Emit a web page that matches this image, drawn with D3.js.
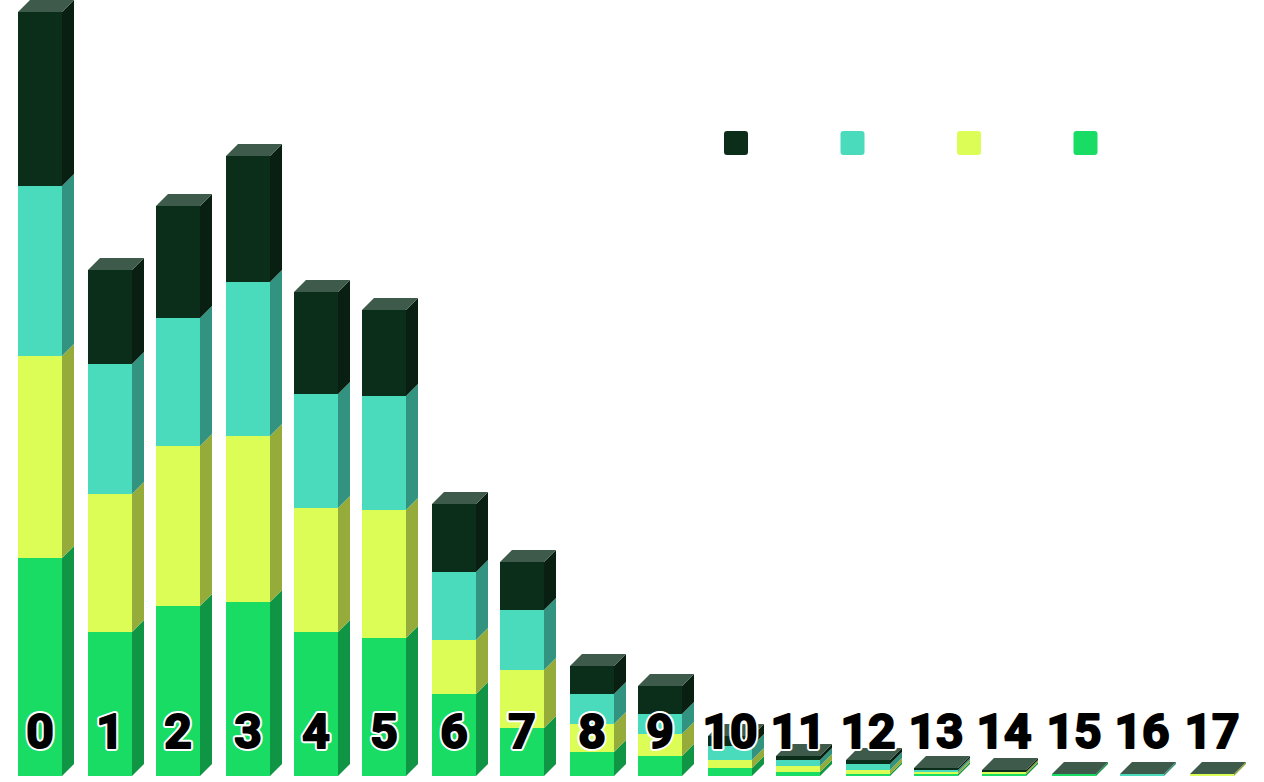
<!DOCTYPE html>
<html>
<head>
<meta charset="utf-8">
<script src="https://cdn.jsdelivr.net/npm/d3@7"></script>
<style>
  html, body { margin: 0; padding: 0; background: #fff; overflow: hidden; }
  svg { display: block; }
  .label {
    font-family: Roboto, "Liberation Sans", sans-serif;
    font-weight: bold;
    font-size: 48px;
    text-anchor: middle;
    stroke-linejoin: round;
  }
  .label.halo { fill: #fff; stroke: #fff; stroke-width: 6px; }
  .label.ink { fill: #000; stroke: #000; stroke-width: 2px; }
</style>
</head>
<body>
<script>
const categories = ['0', '1', '2', '3', '4', '5', '6', '7', '8', '9', '10', '11', '12', '13', '14', '15', '16', '17'];

const green = [109, 72, 85, 87, 72, 69, 41, 24, 12, 10, 4, 2, 1, 1, 1, 1, 0, 0];
const yellow = [101, 69, 80, 83, 62, 64, 27, 29, 14, 11, 4, 3, 2, 1, 1, 0, 0, 1];
const teal = [85, 65, 64, 77, 57, 57, 34, 30, 15, 10, 7, 3, 3, 1, 0, 0, 1, 0];
const dark = [87, 47, 56, 63, 51, 43, 34, 24, 14, 14, 5, 2, 2, 1, 1, 0, 0, 0];

const seriesKeys = ['green', 'yellow', 'teal', 'dark'];
const legendKeys = ['dark', 'teal', 'yellow', 'green'];
const seriesValues = { green, yellow, teal, dark };

const colors = { green: '#18dc64', yellow: '#dcfd55', teal: '#4adbbd', dark: '#0b2e1a' };
const sideColors = { green: '#109545', yellow: '#95ab3a', teal: '#329480', dark: '#081f12' };
const topColor = '#3e5a4a';

const width = 1264;
const height = 782;
const barWidth = 44;
const depth = 12;

const rows = categories.map((c, i) => {
  const row = { category: c };
  seriesKeys.forEach(k => { row[k] = seriesValues[k][i]; });
  return row;
});

const stacked = d3.stack().keys(seriesKeys)(rows);

const x = d3.scalePoint()
  .domain(categories)
  .range([18.58, 1189.54]);

const y = d3.scaleLinear()
  .domain([0, d3.max(stacked[stacked.length - 1], d => d[1])])
  .range([776, 12]);

// the bars sit on an even pixel grid
const barX = c => 2 * Math.round(x(c) / 2);

const svg = d3.select('body')
  .append('svg')
  .attr('width', width)
  .attr('height', height);

const layers = svg.selectAll('g.layer')
  .data(stacked)
  .join('g')
  .attr('class', 'layer');

layers.selectAll('path.side')
  .data(s => s.filter(d => d[1] > d[0]).map(d => ({ key: s.key, d })))
  .join('path')
  .attr('class', 'side')
  .attr('fill', o => sideColors[o.key])
  .attr('d', o => {
    const right = barX(o.d.data.category) + barWidth;
    const y0 = y(o.d[0]);
    const y1 = y(o.d[1]);
    return `M${right},${y0}L${right + depth},${y0 - depth}L${right + depth},${y1 - depth}L${right},${y1}Z`;
  });

layers.selectAll('rect.front')
  .data(s => s.filter(d => d[1] > d[0]).map(d => ({ key: s.key, d })))
  .join('rect')
  .attr('class', 'front')
  .attr('fill', o => colors[o.key])
  .attr('x', o => barX(o.d.data.category))
  .attr('y', o => y(o.d[1]))
  .attr('width', barWidth)
  .attr('height', o => y(o.d[0]) - y(o.d[1]));

svg.append('g')
  .selectAll('path')
  .data(stacked[stacked.length - 1])
  .join('path')
  .attr('fill', topColor)
  .attr('d', d => {
    const left = barX(d.data.category);
    const top = y(d[1]);
    return `M${left},${top}L${left + depth},${top - depth}L${left + barWidth + depth},${top - depth}L${left + barWidth},${top}Z`;
  });

// white halo first, then the heavy black digits on top of it
['halo', 'ink'].forEach(cls => {
  svg.append('g')
    .selectAll('text')
    .data(categories)
    .join('text')
    .attr('class', `label ${cls}`)
    .attr('x', c => barX(c) + barWidth / 2)
    .attr('y', 748)
    .text(c => c);
});

const legendX = d3.scalePoint()
  .domain(legendKeys)
  .range([724, 1073.5]);

svg.append('g')
  .selectAll('rect')
  .data(legendKeys)
  .join('rect')
  .attr('x', k => legendX(k))
  .attr('y', 131)
  .attr('width', 24)
  .attr('height', 24)
  .attr('rx', 3)
  .attr('fill', k => colors[k]);
</script>
</body>
</html>
